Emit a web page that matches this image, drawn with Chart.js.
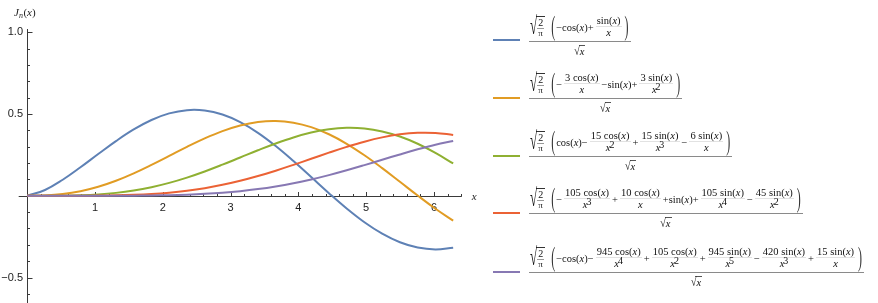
<!DOCTYPE html>
<html><head><meta charset="utf-8">
<script src="https://cdn.jsdelivr.net/npm/chart.js@4/dist/chart.umd.min.js"></script>
<style>
html,body{margin:0;padding:0;background:#fff;}
#wrap{position:relative;width:878px;height:303px;overflow:hidden;}
#c{position:absolute;left:0;top:0;}
.ent{position:absolute;left:529px;font-family:"Liberation Serif",serif;font-size:10.5px;color:#111;white-space:nowrap;}
.sw{position:absolute;left:493px;width:27px;height:2px;}
.mf{display:inline-flex;flex-direction:column;align-items:center;}
.mn{height:28px;display:flex;align-items:center;border-bottom:1px solid #8a8a8a;padding:0 1px;}
.md{height:17px;display:flex;align-items:center;justify-content:center;}
.fr{display:inline-flex;flex-direction:column;align-items:center;margin:0 2px;}
.fn{line-height:11px;padding:0 1px;border-bottom:1px solid #e2e2e2;}
.fd{line-height:12px;}
.fd sup{font-size:10px;vertical-align:0;position:relative;top:-3px;margin-left:-1px;}
.rad{display:inline-flex;align-items:flex-end;margin-right:5px;}
.rs{display:inline-block;font-size:13px;transform:scaleY(1.9);transform-origin:bottom;line-height:12px;margin-right:-1px;}
.rc{border-top:1px solid #333;padding:0 1px;}
.rc .fr{margin:0;}
.rc .fn{font-size:10px;line-height:10px;border-bottom:1px solid #999;}
.rc .fd{font-size:9px;line-height:9px;}
.pa{display:inline-block;font-size:12px;transform:scaleY(2.2);color:#333;margin:0 1px;}
.sx{display:inline-flex;align-items:flex-end;}
.sx .rs{font-size:10px;transform:scaleY(1.2);line-height:11px;}
.sx .rc{border-top:1px solid #555;line-height:11px;}
</style></head><body>
<div id="wrap">
<canvas id="c" width="878" height="303"></canvas>
<div id="legend"></div>
</div>
<script>
// ---- data (values read/estimated from the reference) ----
const xs = [0, 0.2618, 0.5236, 0.7854, 1.0472, 1.3090, 1.5708, 1.8326, 2.0944, 2.3562, 2.6180, 2.8798, 3.1416,
            3.4034, 3.6652, 3.9270, 4.1888, 4.4506, 4.7124, 4.9742, 5.2360, 5.4978, 5.7596, 6.0214, 6.2832];
const j32 = [0, 0.0354, 0.0980, 0.1740, 0.2550, 0.3341, 0.4053, 0.4632, 0.5036, 0.5235, 0.5212, 0.4964, 0.4502,
             0.3849, 0.3041, 0.2122, 0.1143, 0.0158, -0.0780, -0.1621, -0.2320, -0.2844, -0.3168, -0.3281, -0.3183];
const j52 = [0, 0.0019, 0.0103, 0.0278, 0.0552, 0.0921, 0.1374, 0.1890, 0.2439, 0.2990, 0.3507, 0.3954, 0.4299,
             0.4512, 0.4573, 0.4468, 0.4195, 0.3760, 0.3179, 0.2478, 0.1690, 0.0854, 0.0012, -0.0793, -0.1520];
const j72 = [0, 0.0001, 0.0008, 0.0032, 0.0084, 0.0177, 0.0321, 0.0524, 0.0787, 0.1111, 0.1486, 0.1902, 0.2340,
             0.2780, 0.3197, 0.3567, 0.3864, 0.4066, 0.4153, 0.4112, 0.3934, 0.3621, 0.3179, 0.2622, 0.1974];
const j92 = [0, 0.0000, 0.0000, 0.0003, 0.0010, 0.0026, 0.0058, 0.0110, 0.0192, 0.0309, 0.0466, 0.0668, 0.0915,
             0.1206, 0.1534, 0.1890, 0.2262, 0.2635, 0.2990, 0.3308, 0.3570, 0.3756, 0.3851, 0.3841, 0.3719];
const j112 = [0, 0.0000, 0.0000, 0.0000, 0.0001, 0.0003, 0.0008, 0.0019, 0.0038, 0.0069, 0.0117, 0.0186, 0.0282,
             0.0408, 0.0569, 0.0765, 0.0997, 0.1263, 0.1558, 0.1874, 0.2201, 0.2528, 0.2839, 0.3119, 0.3353];
const seriesColors = ['#5E81B5', '#E19C24', '#8FB032', '#EB6235', '#8778B3'];

const xMajorTicks = [1, 2, 3, 4, 5, 6];
const xTickLabels = ['1', '2', '3', '4', '5', '6'];
const xMinorTicks = [0.2, 0.4, 0.6, 0.8, 1.2, 1.4, 1.6, 1.8, 2.2, 2.4, 2.6, 2.8, 3.2, 3.4, 3.6, 3.8,
                     4.2, 4.4, 4.6, 4.8, 5.2, 5.4, 5.6, 5.8, 6.2, 6.4];
const yMajorTicks = [-0.5, 0.5, 1.0];
const yTickLabels = ['\u22120.5', '0.5', '1.0'];
const yMinorTicks = [-0.6, -0.4, -0.3, -0.2, -0.1, 0.1, 0.2, 0.3, 0.4, 0.6, 0.7, 0.8, 0.9];

// ---- legend (math labels as real text) ----
const X = '<i>x</i>';
const xp = n => `${X}<sup>${n}</sup>`;
const F = (n, d) => `<span class="fr"><span class="fn">${n}</span><span class="fd">${d}</span></span>`;
const cs = `cos(${X})`, sn = `sin(${X})`;
const seriesTerms = [
  `\u2212${cs}+` + F(sn, X),
  `\u2212` + F(`3 ${cs}`, X) + `\u2212${sn}+` + F(`3 ${sn}`, xp(2)),
  `${cs}\u2212` + F(`15 ${cs}`, xp(2)) + `+` + F(`15 ${sn}`, xp(3)) + `\u2212` + F(`6 ${sn}`, X),
  `\u2212` + F(`105 ${cs}`, xp(3)) + `+` + F(`10 ${cs}`, X) + `+${sn}+` + F(`105 ${sn}`, xp(4)) + `\u2212` + F(`45 ${sn}`, xp(2)),
  `\u2212${cs}\u2212` + F(`945 ${cs}`, xp(4)) + `+` + F(`105 ${cs}`, xp(2)) + `+` + F(`945 ${sn}`, xp(5)) + `\u2212` + F(`420 ${sn}`, xp(3)) + `+` + F(`15 ${sn}`, X)
];
const barYs = [41, 98, 156, 213, 272];
const swatchYs = [39, 97, 155, 212, 271];

const legendEl = document.getElementById('legend');
let html = '';
seriesTerms.forEach((t, i) => {
  html += `<div class="sw" style="top:${swatchYs[i]}px;background:${seriesColors[i]}"></div>`;
  html += `<div class="ent" style="top:${barYs[i] - 28}px"><span class="mf"><span class="mn">` +
    `<span class="rad"><span class="rs">\u221A</span><span class="rc">${F('2', '\u03C0')}</span></span>` +
    `<span class="pa">(</span>${t}<span class="pa">)</span></span>` +
    `<span class="md"><span class="sx"><span class="rs">\u221A</span><span class="rc">${X}</span></span></span></span></div>`;
});
legendEl.innerHTML = html;

// ---- axes drawn from the chart's own scales ----
const axesPlugin = {
  id: 'mmaAxes',
  beforeDatasetsDraw(chart) {
    const {ctx, chartArea: a, scales: {x, y}} = chart;
    const x0 = Math.round(x.getPixelForValue(0)) + 0.5;
    const y0 = Math.round(y.getPixelForValue(0)) + 0.5;
    ctx.save();
    ctx.strokeStyle = '#3a3a3a';
    ctx.lineWidth = 1;
    ctx.beginPath();
    ctx.moveTo(a.left, y0); ctx.lineTo(a.right, y0);
    ctx.moveTo(x0, a.top); ctx.lineTo(x0, a.bottom + 1);
    xMajorTicks.forEach(v => { const p = Math.round(x.getPixelForValue(v)) + 0.5; ctx.moveTo(p, y0); ctx.lineTo(p, y0 - 4.5); });
    xMinorTicks.forEach(v => { const p = Math.round(x.getPixelForValue(v)) + 0.5; ctx.moveTo(p, y0); ctx.lineTo(p, y0 - 2.5); });
    yMajorTicks.forEach(v => { const p = Math.round(y.getPixelForValue(v)) + 0.5; ctx.moveTo(x0, p); ctx.lineTo(x0 + 5, p); });
    yMinorTicks.forEach(v => { const p = Math.round(y.getPixelForValue(v)) + 0.5; ctx.moveTo(x0, p); ctx.lineTo(x0 + 2.5, p); });
    ctx.stroke();
    ctx.fillStyle = '#222';
    ctx.font = '11px "Liberation Sans", Arial, sans-serif';
    ctx.textAlign = 'center'; ctx.textBaseline = 'middle';
    xMajorTicks.forEach((v, i) => ctx.fillText(xTickLabels[i], x.getPixelForValue(v), y0 + 11));
    ctx.textAlign = 'right';
    yMajorTicks.forEach((v, i) => ctx.fillText(yTickLabels[i], x0 - 4.5, y.getPixelForValue(v)));
    // axis labels
    ctx.textAlign = 'left'; ctx.textBaseline = 'alphabetic';
    ctx.font = 'italic 11px "Liberation Serif", serif';
    ctx.fillText('x', a.right + 10, y0 + 3);
    let lx = 14, ly = 16;
    ctx.fillText('J', lx, ly); lx += ctx.measureText('J').width;
    ctx.font = 'italic 8px "Liberation Serif", serif';
    ctx.fillText('n', lx, ly + 2); lx += ctx.measureText('n').width + 0.5;
    ctx.font = '11px "Liberation Serif", serif';
    ctx.fillText('(', lx, ly); lx += ctx.measureText('(').width;
    ctx.font = 'italic 11px "Liberation Serif", serif';
    ctx.fillText('x', lx, ly); lx += ctx.measureText('x').width;
    ctx.font = '11px "Liberation Serif", serif';
    ctx.fillText(')', lx, ly);
    ctx.restore();
  }
};

const mk = (arr, i) => ({
  data: xs.map((v, k) => ({x: v, y: arr[k]})),
  borderColor: seriesColors[i], borderWidth: 2, pointRadius: 0, tension: 0.4,
  fill: false, order: 5 - i
});

new Chart(document.getElementById('c'), {
  type: 'line',
  data: { datasets: [mk(j32, 0), mk(j52, 1), mk(j72, 2), mk(j92, 3), mk(j112, 4)] },
  options: {
    responsive: false, animation: false, events: [],
    layout: { padding: { left: 18.7, right: 416.3, top: 29, bottom: 0 } },
    plugins: { legend: { display: false }, tooltip: { enabled: false } },
    scales: {
      x: { type: 'linear', min: -0.1257, max: 6.409, display: false },
      y: { type: 'linear', min: -0.6555, max: 1.0195, display: false }
    }
  },
  plugins: [axesPlugin]
});
</script>
</body></html>
